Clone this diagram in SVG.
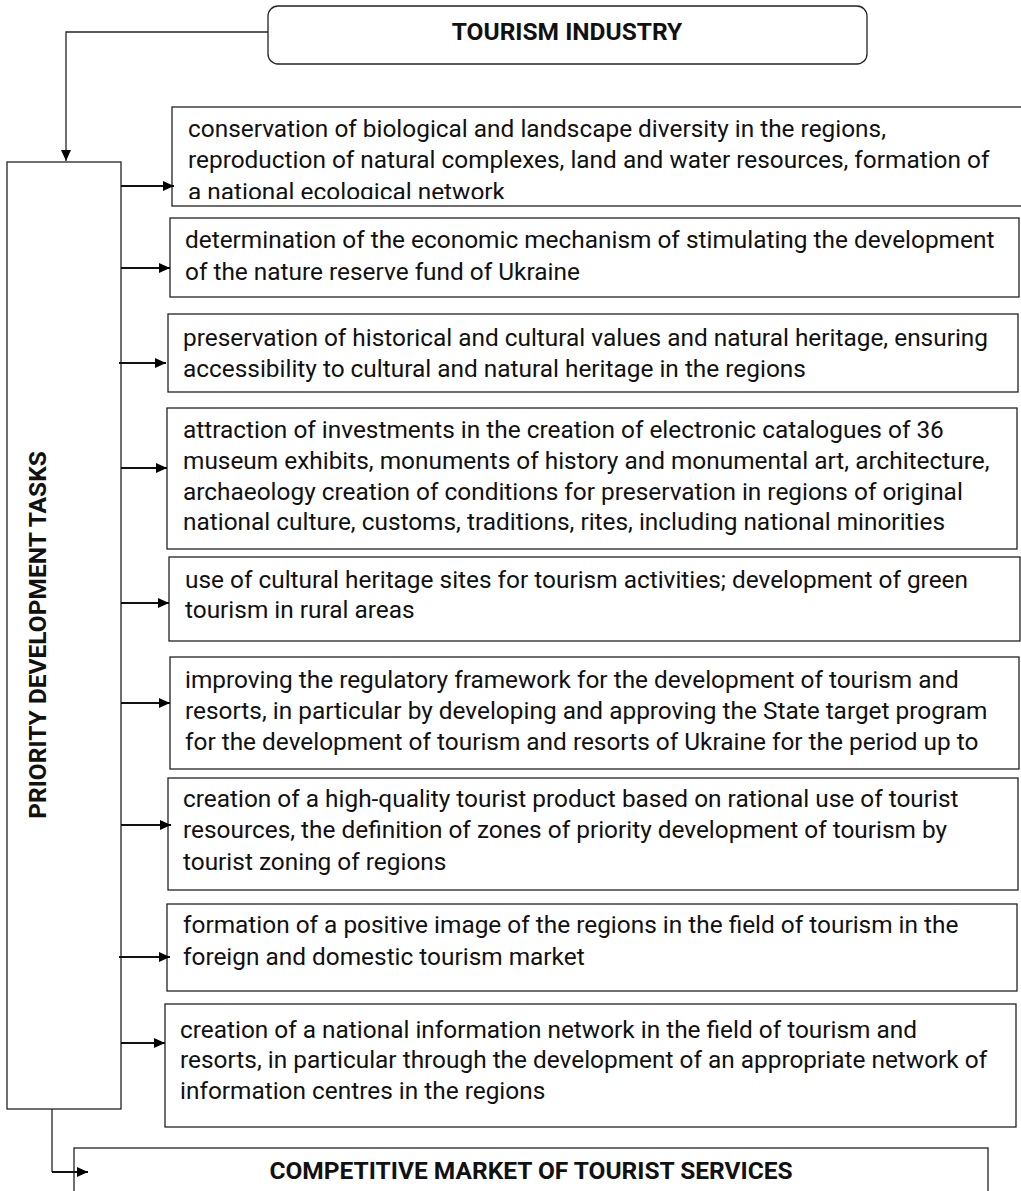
<svg xmlns="http://www.w3.org/2000/svg" width="1021" height="1191" viewBox="0 0 1021 1191">
<style>
.box{fill:#fff;stroke:#222;stroke-width:1.3}
.t{font-family:Roboto,"Liberation Sans",sans-serif;font-size:24.4px;fill:#111}
.h{font-family:Roboto,"Liberation Sans",sans-serif;font-size:24.5px;font-weight:bold;fill:#111}
.c{fill:none;stroke:#111;stroke-width:1.8}
.c2{fill:none;stroke:#222;stroke-width:1.3}
</style>
<defs>
<marker id="ar" viewBox="0 0 11 10" refX="11" refY="5" markerWidth="11" markerHeight="10" markerUnits="userSpaceOnUse" orient="auto">
<path d="M0,0 L11,5 L0,10 Z" fill="#000"/>
</marker>
<clipPath id="clip1"><rect x="172" y="107" width="860" height="92"/></clipPath>
</defs>
<rect width="1021" height="1191" fill="#fff"/>

<g id="tourism-industry">
<rect class="box" x="268" y="6" width="599" height="58" rx="10"/>
<text class="h" x="567" y="40" text-anchor="middle">TOURISM INDUSTRY</text>
</g>

<g id="priority-tasks">
<rect class="box" x="7" y="162" width="114" height="947"/>
<text class="h" transform="translate(46,635) rotate(-90)" text-anchor="middle">PRIORITY DEVELOPMENT TASKS</text>
</g>

<g id="task1">
<rect class="box" x="172" y="107" width="860" height="99"/>
<g clip-path="url(#clip1)">
<text class="t" x="188" y="137">conservation of biological and landscape diversity in the regions,</text>
<text class="t" x="188" y="168">reproduction of natural complexes, land and water resources, formation of</text>
<text class="t" x="188" y="200">a national ecological network</text>
</g>
</g>

<g id="task2">
<rect class="box" x="170" y="218" width="849" height="79"/>
<text class="t" x="185" y="248">determination of the economic mechanism of stimulating the development</text>
<text class="t" x="185" y="280">of the nature reserve fund of Ukraine</text>
</g>

<g id="task3">
<rect class="box" x="168" y="314" width="850" height="78"/>
<text class="t" x="183" y="346">preservation of historical and cultural values and natural heritage, ensuring</text>
<text class="t" x="183" y="377">accessibility to cultural and natural heritage in the regions</text>
</g>

<g id="task4">
<rect class="box" x="167" y="408" width="850" height="141"/>
<text class="t" x="183" y="438">attraction of investments in the creation of electronic catalogues of 36</text>
<text class="t" x="183" y="469">museum exhibits, monuments of history and monumental art, architecture,</text>
<text class="t" x="183" y="500">archaeology creation of conditions for preservation in regions of original</text>
<text class="t" x="183" y="530">national culture, customs, traditions, rites, including national minorities</text>
</g>

<g id="task5">
<rect class="box" x="169" y="557" width="851" height="84"/>
<text class="t" x="185" y="588">use of cultural heritage sites for tourism activities; development of green</text>
<text class="t" x="185" y="618">tourism in rural areas</text>
</g>

<g id="task6">
<rect class="box" x="170" y="657" width="849" height="112"/>
<text class="t" x="185" y="688">improving the regulatory framework for the development of tourism and</text>
<text class="t" x="185" y="719">resorts, in particular by developing and approving the State target program</text>
<text class="t" x="185" y="750">for the development of tourism and resorts of Ukraine for the period up to</text>
</g>

<g id="task7">
<rect class="box" x="168" y="778" width="850" height="112"/>
<text class="t" x="183" y="807">creation of a high-quality tourist product based on rational use of tourist</text>
<text class="t" x="183" y="838">resources, the definition of zones of priority development of tourism by</text>
<text class="t" x="183" y="870">tourist zoning of regions</text>
</g>

<g id="task8">
<rect class="box" x="167" y="904" width="850" height="87"/>
<text class="t" x="183" y="933">formation of a positive image of the regions in the field of tourism in the</text>
<text class="t" x="183" y="965">foreign and domestic tourism market</text>
</g>

<g id="task9">
<rect class="box" x="165" y="1004" width="851" height="123"/>
<text class="t" x="180" y="1038">creation of a national information network in the field of tourism and</text>
<text class="t" x="180" y="1068">resorts, in particular through the development of an appropriate network of</text>
<text class="t" x="180" y="1099">information centres in the regions</text>
</g>

<g id="competitive-market">
<rect class="box" x="74" y="1148" width="914" height="60"/>
<text class="h" x="531" y="1179" text-anchor="middle">COMPETITIVE MARKET OF TOURIST SERVICES</text>
</g>

<g id="connectors">
<path class="c2" d="M268,32 H66 V161" marker-end="url(#ar)"/>
<path class="c" d="M121,186 H174" marker-end="url(#ar)"/>
<path class="c" d="M121,268 H170" marker-end="url(#ar)"/>
<path class="c" d="M119,363 H166" marker-end="url(#ar)"/>
<path class="c" d="M121,468 H167" marker-end="url(#ar)"/>
<path class="c" d="M121,603 H169" marker-end="url(#ar)"/>
<path class="c" d="M121,703 H170" marker-end="url(#ar)"/>
<path class="c" d="M121,825 H171" marker-end="url(#ar)"/>
<path class="c" d="M119,957 H170" marker-end="url(#ar)"/>
<path class="c" d="M121,1043 H165" marker-end="url(#ar)"/>
<path class="c2" d="M52,1109 V1172"/>
<path class="c" d="M52,1172 H88" marker-end="url(#ar)"/>
</g>
</svg>
